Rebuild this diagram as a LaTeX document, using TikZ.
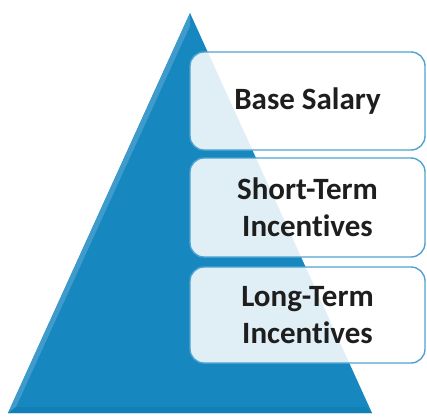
\documentclass[tikz,border=0pt]{standalone}
\usepackage{fontspec}
\setmainfont[Ligatures={NoCommon}]{Carlito}
\definecolor{triblue}{HTML}{1787BF}
\definecolor{trilight}{HTML}{3E9BCB}
\definecolor{tridark}{HTML}{127FB6}
\definecolor{boxline}{HTML}{4EA3D1}
\definecolor{txt}{HTML}{1E1E1E}
\tikzset{
  tierbox/.style={draw=boxline, line width=1.4pt, fill=white, fill opacity=0.87, text opacity=1,
    rounded corners=14pt, minimum width=235pt, minimum height=#1, align=center,
    font=\bfseries\fontsize{31}{37}\selectfont, text=txt, inner sep=0pt}
}
\begin{document}
\begin{tikzpicture}[x=1pt,y=-1pt]
\useasboundingbox (0,0) rectangle (427,417);
% pyramid
\fill[triblue] (190,13) -- (372,413) -- (8,413) -- cycle;
\fill[trilight] (190,13) -- (8,413) -- (16,407) -- (190,26) -- cycle;
\fill[tridark] (8,413) -- (372,413) -- (365,407) -- (16,407) -- cycle;
% boxes
\node[tierbox=98pt] (base) at (307.5,101) {Base Salary};
\node[tierbox=99pt] (short) at (307.5,207.5) {Short-Term\\Incentives};
\node[tierbox=96pt] (long) at (307.5,315) {Long-Term\\Incentives};
\end{tikzpicture}
\end{document}
